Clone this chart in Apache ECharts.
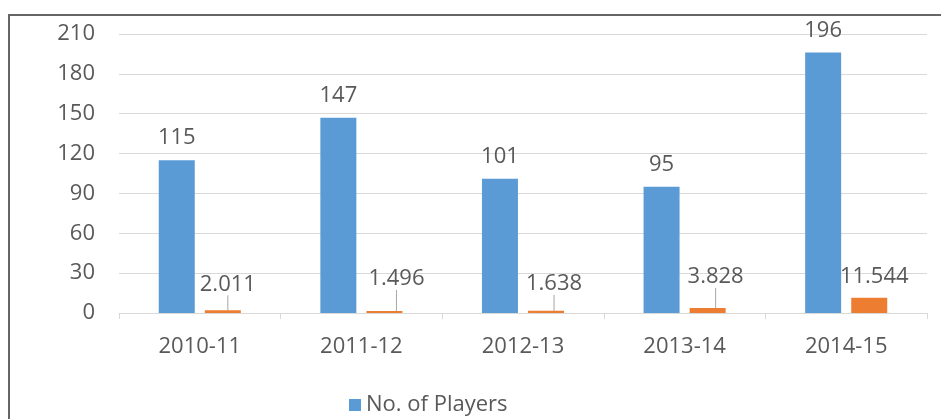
<!DOCTYPE html>
<html>
<head>
<meta charset="utf-8">
<script src="https://cdn.jsdelivr.net/npm/echarts@6/dist/echarts.min.js"></script>
<style>
  html, body { margin: 0; padding: 0; background: #fff; }
  #chart { width: 941px; height: 419px; }
</style>
</head>
<body>
<div id="chart"></div>
<script>
// Seasons on the category axis
const seasons = ['2010-11', '2011-12', '2012-13', '2013-14', '2014-15'];
// Number of players per season
const players = [115, 147, 101, 95, 196];
// Second measure per season
const amounts = [2.011, 1.496, 1.638, 3.828, 11.544];
// Value axis ticks
const yMin = 0, yMax = 210, yStep = 30;

// Nudges for the small-bar labels (pulled up with a leader line)
const amountLabelShift = [
  { dx: 5, dy: -15, line: true },
  { dx: 12, dy: -21, line: true },
  { dx: 8, dy: -16, line: true },
  { dx: 8, dy: -20, line: true },
  { dx: 5, dy: -10, line: false }
];

const FONT = 'Open Sans';
const TXT = '#595959';
const FS = 22;

const chart = echarts.init(document.getElementById('chart'), null, { renderer: 'canvas' });
chart.setOption({
  animation: false,
  textStyle: { fontFamily: FONT },
  grid: { left: 119, right: 14, top: 34, bottom: 106, containLabel: false },
  graphic: [
    { type: 'line', shape: { x1: 8, y1: 15, x2: 941, y2: 15 }, style: { stroke: '#666', lineWidth: 2 } },
    { type: 'line', shape: { x1: 9, y1: 15, x2: 9, y2: 419 }, style: { stroke: '#666', lineWidth: 2 } }
  ],
  legend: {
    data: ['No. of Players'],
    left: 344, top: 389,
    itemWidth: 12, itemHeight: 12, itemGap: 10,
    icon: 'rect',
    textStyle: { color: TXT, fontSize: FS, fontFamily: FONT }
  },
  xAxis: {
    type: 'category',
    data: seasons,
    axisLine: { lineStyle: { color: '#d9d9d9' } },
    axisTick: { show: true, length: 6, lineStyle: { color: '#d9d9d9' } },
    axisLabel: { color: TXT, fontSize: FS, margin: 23 }
  },
  yAxis: {
    type: 'value',
    min: yMin, max: yMax, interval: yStep,
    axisLine: { show: false },
    axisTick: { show: false },
    splitLine: { lineStyle: { color: '#d9d9d9' } },
    axisLabel: { color: TXT, fontSize: FS, margin: 24 }
  },
  series: [
    {
      name: 'No. of Players',
      type: 'bar',
      data: players,
      barWidth: 36,
      barGap: '28%',
      itemStyle: { color: '#5b9bd5' },
      label: { show: true, position: 'top', distance: 11, color: TXT, fontSize: FS }
    },
    {
      name: 'Amount',
      type: 'bar',
      data: amounts.map((v, i) => ({
        value: v,
        labelLine: { show: amountLabelShift[i].line }
      })),
      barWidth: 36,
      itemStyle: { color: '#ed7d31' },
      label: {
        show: true, position: 'top', distance: 0, color: TXT, fontSize: FS,
        formatter: p => amounts[p.dataIndex].toFixed(3)
      },
      labelLine: { show: true, lineStyle: { color: '#a6a6a6', width: 1 } },
      labelLayout: p => {
        const s = amountLabelShift[p.dataIndex];
        return { dx: s.dx, dy: s.dy };
      }
    }
  ]
});
</script>
</body>
</html>
